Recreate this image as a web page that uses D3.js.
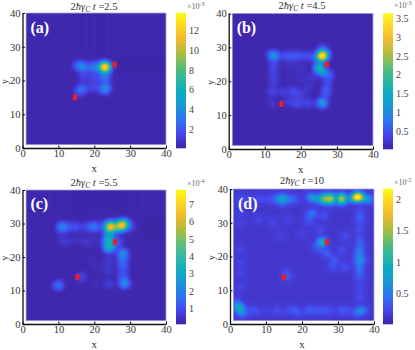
<!DOCTYPE html>
<html>
<head>
<meta charset="utf-8">
<script src="https://cdn.jsdelivr.net/npm/d3@7"></script>
<style>
  html, body { margin: 0; padding: 0; background: #fff; }
  svg { display: block; font-family: "Liberation Serif", serif; }
</style>
</head>
<body>
<svg id="chart" width="415" height="350"></svg>
<script>
// bright spots: [x, y, height in colourbar units]
var spotsA = [
  [23,24,12.8],[20,24,3.2],[17,24,2.8],[15.5,24.5,2],
  [23,21,2.9],[23,17.5,3.6],[23.3,18.5,.6],[20,21,1.4],[17,21,1.1],[20,18,1.2],[18,18,.4],
  [16.5,17.3,2.1],[15.5,16.5,1]
];
var spotsB = [
  [26,27.5,2.7],[25.5,27,.5],[26,29.3,.5],[24.5,27,.4],[27.2,28,.4],
  [12.3,27.3,1],[11.5,28,.2],[15.5,27.5,.35],[17.5,27.5,.4],[19.5,27.5,.4],[22,27.5,.4],
  [24.8,24,1.3],[25.5,23,.5],[26.5,22.5,.5],[28,22,.35],[27.5,20,.3],[27,18,.3],[27,16.5,.4],
  [26.2,13.5,1],[25.5,14,.2],[22,13.5,.35],[19,13.5,.4],[16.5,14,.25],[12,13.5,.2],
  [12,17,.35],[15,17,.25],[18,17,.4],[12.5,20,.25],[12.5,22,.25],[12.5,24.5,.35],
  [17,24.5,.15],[20,24,.15],[17,21,.1],[20,21,.15],[22,18,.2],[23,21,.2],[20,16,.2]
];
var spotsC = [
  [24.6,28.9,4.8],[24.6,30,1],[24.6,28,1.2],[27.6,29.3,4.4],[28.3,29.8,2.2],[27,28.7,1.4],[10.9,29,1.7],[11,28,.3],[13,29,.6],[15,29,.8],
  [18,29,.7],[20.2,29,1.5],[22.5,29,.6],[23.9,25.4,3],[23.9,22.9,3],[24.8,22.3,.5],
  [28.1,21.1,2.1],[27.8,19,.7],[27.8,17.6,1],[28,15,.9],[28.4,11.9,1.8],[28.2,13,.5],
  [10,11.7,1.5],[24,19,.45],[24,16,.45],[24,12,.55],[20.5,12,.25],[16.5,14,.7],[26.6,24.5,1],
  [11,25,.4],[14,25,.3],[17,25,.3],[20,25,.3],[12,23.3,.2],[18,23.3,.2],[19,19,.2],[21,17,.2],[29.8,29,.7]
];
var spotsD = [
  [35.5,37.4,1.2],[34.5,37.6,.55],[36.5,37.6,.55],[35.5,38.4,.35],
  [31.2,37,1.05],[31.2,38,.4],[31.2,36,.25],[28,37,1],[28,38,.35],[28,36,.25],[25.8,36.8,.85],[25.8,37.8,.25],[25.8,36,.15],
  [23,37.5,.35],[24,37,.3],[22,37.5,.2],[33.5,37,.3],[38,37,.35],[39,37,.2],
  [14.4,37.4,.35],[13.5,37,.25],[15.5,37,.25],[14.5,36,.2],[17,37,.18],[18,37,.12],[12,37,.15],[10,37,.08],[8,37,.12],[5,37,.08],[3,37,.12],
  [2.6,4.4,.55],[2,6,.3],[3.5,3,.3],[3,5,.2],[5,4,.1],[7,4,.15],[10,4,.05],[13,4,.12],[16,4,.1],[18,4,.18],[19.5,3,.1],[22,4,.2],[24,4,.12],[26,4,.18],
  [28,4,.1],[31,4,.18],[36,4,.28],[37,4,.25],[35,3,.15],[33,4,.12],
  [36.1,18,.3],[36,20,.3],[36,21.5,.25],[36,16,.25],[36,14,.2],[36,23,.18],[36,25,.18],[36,28,.15],[36,31,.2],[36,33,.15],[36,11,.12],[36,8,.12],
  [37,19,.12],[35,19,.12],[25.5,24.6,.55],[26,23.8,.25],[24,23,.15],[25,22,.12],[27,21,.2],[29,19,.18],[28.5,17,.15],[32,17,.14],[31,22,.14],[32,26,.12],
  [26,32,.15],[23,33,.25],[22,32,.2],[22,30,.12],[25,28,.12],[15.5,15,.12],[16,14,.12],
  [3,33,.08],[3,30,.08],[3,22,.08],[3,18,.08],[3,15,.08],[3,11,.08],[8,31,.08],[12,30,.08],[16,31,.08],[20,27,.06],[14,26,.06]
];

// little red rectangles: [x, y]
var markersA = [[25.7,24.7],[14.6,15]];
var markersB = [[27.2,25],[14.6,13.3]];
var markersC = [[25.8,24.5],[15.3,14]];
var markersD = [[26.9,24.3],[14.9,13.9]];

var axisTicks = [0,10,20,30,40];
var barTicksA = [2,4,6,8,10,12];
var barTicksB = [0.5,1,1.5,2,2.5,3,3.5];
var barTicksC = [1,2,3,4,5,6,7];
var barTicksD = [0.5,1,1.5,2];

var panelNames = ["(a)","(b)","(c)","(d)"];
var titleTimes = ["2.5","4.5","5.5","10"];
var barExponents = ["-3","-3","-4","-5"];

// colourbar ends
var barRangeA = [0.1,13.75];
var barRangeB = [0.02,3.63];
var barRangeC = [0.09,7.82];
var barRangeD = [0.02,2.16];
var floorValues = [0.1,0.03,0.09,0.14];

var parula = ["#3e26a8","#4746eb","#2d73f0","#1e93d8","#09abc2","#2ab6a3","#5cbd74","#acbd3f","#eeb92e","#ffd423","#f9fb15"];

var layout = [
  { x0: 22.5, x1: 166, y0: 148, y1: 13, bar: 176, title: 94, titleY: 9.5, expY: 9, blur: 1.5 },
  { x0: 228.7, x1: 373, y0: 149, y1: 13.5, bar: 383, title: 302, titleY: 8.5, expY: 8, blur: 1.4 },
  { x0: 22.5, x1: 166, y0: 324, y1: 190, bar: 176, title: 94, titleY: 186, expY: 186, blur: 1.5 },
  { x0: 230, x1: 374, y0: 324, y1: 189, bar: 383, title: 302, titleY: 184, expY: 185, blur: 1.2 }
];

var svg = d3.select("#chart");
var allSpots = [spotsA, spotsB, spotsC, spotsD];
var allMarkers = [markersA, markersB, markersC, markersD];
var allBarTicks = [barTicksA, barTicksB, barTicksC, barTicksD];
var allRanges = [barRangeA, barRangeB, barRangeC, barRangeD];

var step = 0.5;
var n = 79;
var levels = 70;

layout.forEach(function (p, k) {
  var g = svg.append("g");
  var x = d3.scaleLinear().domain([0, 40]).range([p.x0, p.x1]);
  var y = d3.scaleLinear().domain([0, 40]).range([p.y0, p.y1]);
  var range = allRanges[k];
  var color = d3.scaleLinear()
    .domain(parula.map(function (c, i) { return range[0] + (range[1] - range[0]) * i / (parula.length - 1); }))
    .range(parula)
    .clamp(true);

  // put the spots on a fine grid and smooth them
  var grid = new Float64Array(n * n);
  allSpots[k].forEach(function (s) {
    grid[Math.round((s[0] - 1) / step) + Math.round((s[1] - 1) / step) * n] += s[2];
  });
  var pulse = new Float64Array(n * n);
  pulse[40 + 40 * n] = 1;
  d3.blur2({ data: pulse, width: n, height: n }, p.blur);
  d3.blur2({ data: grid, width: n, height: n }, p.blur);
  var peak = d3.max(pulse);
  var values = Array.from(grid, function (v) { return Math.min(range[1], floorValues[k] + v / peak); });

  var thresholds = d3.range(levels).map(function (i) { return range[0] + (range[1] - range[0]) * i / levels; });
  var contours = d3.contours().size([n, n]).thresholds(thresholds)(values);

  var toPx = d3.geoTransform({
    point: function (cx, cy) {
      this.stream.point(x(1 + (cx - 0.5) * step), y(1 + (cy - 0.5) * step));
    }
  });

  var clipId = "clip" + k;
  g.append("clipPath").attr("id", clipId).append("rect")
    .attr("x", x(1)).attr("y", y(40)).attr("width", x(40) - x(1)).attr("height", y(1) - y(40));

  g.append("rect")
    .attr("x", x(1)).attr("y", y(40)).attr("width", x(40) - x(1)).attr("height", y(1) - y(40))
    .attr("fill", color(range[0]));

  g.append("g").attr("clip-path", "url(#" + clipId + ")")
    .selectAll("path").data(contours).enter().append("path")
    .attr("d", d3.geoPath(toPx))
    .attr("fill", function (d) { return color(d.value + (range[1] - range[0]) / levels / 2); });

  // pale edge of the image
  g.append("rect")
    .attr("x", x(1)).attr("y", y(40)).attr("width", x(40) - x(1)).attr("height", y(1) - y(40))
    .attr("fill", "none").attr("stroke", "#a7a4dc").attr("stroke-width", 0.8);

  g.selectAll("rect.marker").data(allMarkers[k]).enter().append("rect")
    .attr("class", "marker")
    .attr("x", function (d) { return x(d[0]) - 2; })
    .attr("y", function (d) { return y(d[1]) - 3; })
    .attr("width", 4).attr("height", 6)
    .attr("fill", "#ee1c25");

  var xAxis = g.append("g").attr("transform", "translate(0," + p.y0 + ")")
    .call(d3.axisBottom(x).tickValues(axisTicks).tickSizeInner(-2.5).tickSizeOuter(0).tickPadding(2));
  var yAxis = g.append("g").attr("transform", "translate(" + p.x0 + ",0)")
    .call(d3.axisLeft(y).tickValues(axisTicks).tickSizeInner(-2.5).tickSizeOuter(0).tickPadding(2));
  [xAxis, yAxis].forEach(function (a) {
    a.attr("font-family", "Liberation Serif").attr("font-size", 10.5);
    a.select(".domain").attr("stroke", "#111").attr("stroke-width", 1.3);
    a.selectAll("text").attr("fill", "#333");
  });

  g.append("text").attr("x", (p.x0 + p.x1) / 2).attr("y", p.y0 + 24)
    .attr("text-anchor", "middle").attr("font-size", 11).attr("fill", "#333").text("x");
  g.append("text").attr("transform", "translate(" + (p.x0 - 14.8) + "," + ((p.y0 + p.y1) / 2 + 1) + ") rotate(-90)")
    .attr("text-anchor", "middle").attr("font-size", 9.5).attr("fill", "#333").text("y");

  g.append("text").attr("x", x(2.2)).attr("y", y(34.2))
    .attr("font-size", 16).attr("font-weight", "bold").attr("fill", "#fff").text(panelNames[k]);

  // title
  var title = g.append("text").attr("x", p.title).attr("y", p.titleY)
    .attr("text-anchor", "middle").attr("font-size", 10.5).attr("fill", "#333");
  title.append("tspan").text("2");
  title.append("tspan").attr("font-style", "italic").text("ħγ");
  title.append("tspan").attr("font-style", "italic").attr("font-size", 7.5).attr("dy", 2).text("C");
  title.append("tspan").attr("font-style", "italic").attr("dy", -2).text(" t");
  title.append("tspan").text(" =" + titleTimes[k]);

  // colourbar
  var barY = d3.scaleLinear().domain(range).range([p.y0, p.y1]);
  var barSteps = d3.range(0, 135).map(function (i) { return range[0] + (range[1] - range[0]) * i / 135; });
  g.append("g").selectAll("rect").data(barSteps).enter().append("rect")
    .attr("x", p.bar).attr("width", 10)
    .attr("y", function (d) { return barY(d) - (p.y0 - p.y1) / 135 - 0.3; })
    .attr("height", (p.y0 - p.y1) / 135 + 0.6)
    .attr("fill", function (d) { return color(d); });
  var barAxis = g.append("g").attr("transform", "translate(" + (p.bar + 10) + ",0)")
    .call(d3.axisRight(barY).tickValues(allBarTicks[k]).tickSize(0).tickPadding(3)
      .tickFormat(function (d) { return String(d); }));
  barAxis.attr("font-family", "Liberation Serif").attr("font-size", 10);
  barAxis.select(".domain").attr("stroke", "none");
  barAxis.selectAll("text").attr("fill", "#444");

  var exp = g.append("text").attr("x", p.bar + 11).attr("y", p.expY).attr("font-size", 8).attr("fill", "#666");
  exp.append("tspan").text("×10");
  exp.append("tspan").attr("font-size", 6).attr("dy", -3).text(barExponents[k]);
});
</script>
</body>
</html>
